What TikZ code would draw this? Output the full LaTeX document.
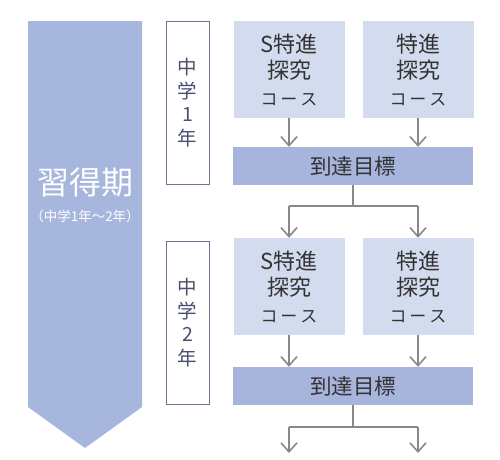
\documentclass[tikz,border=0pt]{standalone}
\usepackage{fontspec}
\usetikzlibrary{arrows.meta}
\newfontfamily\jp{Noto Sans CJK JP}
\definecolor{bigblue}{HTML}{A7B6DD}
\definecolor{lightblue}{HTML}{D3DCEE}
\definecolor{midblue}{HTML}{A7B5DD}
\definecolor{gradeline}{HTML}{6E7391}
\definecolor{gradetext}{HTML}{4A5070}
\definecolor{arrowgray}{HTML}{8C8787}
\definecolor{textdark}{HTML}{333333}
\tikzset{
  gradebox/.style={draw=gradeline, line width=1pt, fill=white, minimum width=43pt, minimum height=163pt, inner sep=0pt, align=center, text=gradetext, font=\jp\fontsize{19.5}{23.5}\selectfont},
  coursebox/.style={fill=lightblue, minimum width=111pt, minimum height=97pt, inner sep=0pt, align=center, text=textdark, font=\jp\fontsize{22}{26.5}\selectfont},
  targetbox/.style={fill=midblue, minimum width=240pt, minimum height=38pt, inner sep=0pt, text=textdark, font=\jp\fontsize{21.5}{24}\selectfont},
  flow/.style={draw=arrowgray, line width=1.6pt},
  flowarrow/.style={flow, -{Straight Barb[length=9pt,width=16pt,line width=1.6pt]}},
}
\newcommand{\coursetxt}[1]{#1\\探究\\{\fontsize{17}{20}\selectfont コ\,ー\,ス}}
\begin{document}
\begin{tikzpicture}[x=1pt,y=-1pt]
\useasboundingbox (0,0) rectangle (500,459);
% big arrow
\fill[bigblue] (28,21) -- (142,21) -- (142,407) -- (85,448) -- (28,407) -- cycle;
\node[text=white, font=\jp\fontsize{32}{36}\selectfont, inner sep=0pt] (period) at (85,182) {習得期};
\node[text=white, font=\jp\fontsize{13.5}{15}\selectfont, inner sep=0pt] (periodsub) at (85,216) {（中学1年〜2年）};
% grade boxes
\node[gradebox] (g1) at (187.5,102.5) {中\\学\\1\\年};
\node[gradebox] (g2) at (187.5,322.5) {中\\学\\2\\年};
% course boxes
\node[coursebox] (c11) at (289,69.5) {\coursetxt{S特進}};
\node[coursebox] (c12) at (418,69.5) {\coursetxt{特進}};
\node[targetbox] (t1) at (353,166) {到達目標};
\node[coursebox] (c21) at (289,286.5) {\coursetxt{S特進}};
\node[coursebox] (c22) at (418,286.5) {\coursetxt{特進}};
\node[targetbox] (t2) at (353,386) {到達目標};
% arrows course -> target
\draw[flowarrow] (c11.south) -- (c11.south |- t1.north);
\draw[flowarrow] (c12.south) -- (c12.south |- t1.north);
\draw[flowarrow] (c21.south) -- (c21.south |- t2.north);
\draw[flowarrow] (c22.south) -- (c22.south |- t2.north);
% split from target 1
\coordinate (s1) at (353,206);
\coordinate (s1l) at (289,206);
\coordinate (s1r) at (418,206);
\draw[flow] (t1.south) -- (s1);
\draw[flow] (s1l) -- (s1r);
\draw[flowarrow] (s1l) -- (c21.north);
\draw[flowarrow] (s1r) -- (c22.north);
% split from target 2
\coordinate (s2) at (353,427);
\coordinate (s2l) at (289,427);
\coordinate (s2r) at (418,427);
\coordinate (e2l) at (289,453);
\coordinate (e2r) at (418,453);
\draw[flow] (t2.south) -- (s2);
\draw[flow] (s2l) -- (s2r);
\draw[flowarrow] (s2l) -- (e2l);
\draw[flowarrow] (s2r) -- (e2r);
\end{tikzpicture}
\end{document}
